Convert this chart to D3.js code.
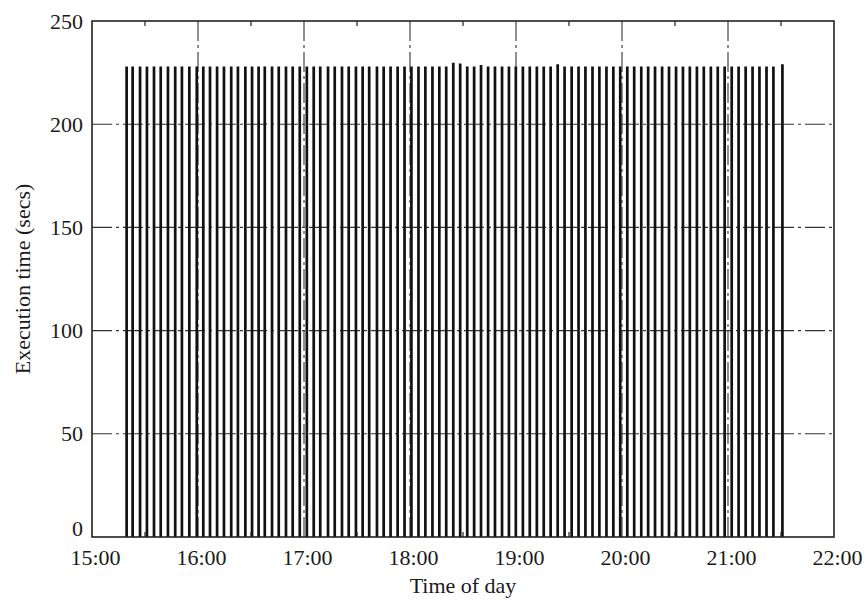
<!DOCTYPE html>
<html>
<head>
<meta charset="utf-8">
<script src="https://cdn.jsdelivr.net/npm/d3@7"></script>
<style>
  body { margin: 0; background: #fff; }
  svg { display: block; }
  .axis text { font-family: "Times New Roman", "Liberation Serif", serif; font-size: 22px; fill: #1a1a1a; }
  .axis path, .axis line { stroke: #222; }
  .axis-label { font-family: "Times New Roman", "Liberation Serif", serif; font-size: 22px; fill: #1a1a1a; }
  .grid line { stroke: #333; stroke-width: 1.1; stroke-dasharray: 20,4,3,4; }
  .run { stroke: #111; stroke-width: 2.7; }
</style>
</head>
<body>
<svg id="chart" width="867" height="605"></svg>
<script>
/* execution time of each run over one afternoon/evening */

// run start, minutes after 15:00
const runMinutes = [
  19.6, 23.0, 27.2, 31.1, 35.1, 38.9, 43.0, 47.1, 50.9, 55.1,
  59.3, 63.0, 66.8, 70.8, 74.7, 78.8, 82.6, 86.8, 90.6, 94.3,
  97.8, 101.9, 105.7, 109.8, 113.6, 117.6, 121.6, 125.5, 129.2, 133.6,
  137.4, 141.5, 145.3, 149.4, 153.2, 156.9, 161.3, 165.1, 169.0, 173.0,
  176.9, 180.8, 184.8, 188.7, 192.7, 196.6, 200.5, 204.5, 208.4, 212.4,
  216.3, 220.2, 224.2, 228.1, 232.1, 236.0, 239.9, 243.9, 247.8, 251.8,
  255.7, 259.6, 263.6, 267.5, 271.5, 275.4, 279.3, 283.3, 287.2, 291.2,
  295.1, 299.0, 303.0, 306.9, 310.9, 314.8, 318.7, 322.7, 326.6, 330.6,
  334.5, 338.4, 342.4, 346.3, 350.3, 354.2, 358.1, 362.1, 366.0, 370.0,
  373.9, 377.8, 381.8, 385.7, 390.8
];

// execution time (secs) of each run
const execSecs = [
  228, 228, 228, 228, 228, 228, 228, 228, 228, 228,
  228, 228, 228, 228, 228, 228, 228, 228, 228, 228,
  228, 228, 228, 228, 228, 228, 228, 228, 228, 228,
  228, 228, 228, 228, 228, 228, 228, 228, 228, 228,
  228, 228, 228, 228, 228, 228, 228, 229.8, 229.4, 228,
  228, 228.7, 228, 228, 228, 228, 228, 228, 228, 228,
  228, 228, 229, 228, 228, 228, 228, 228, 228, 228,
  228, 228, 228, 228, 228, 228, 228, 228, 228, 228,
  228, 228, 228, 228, 228, 228, 228, 228, 228, 228,
  228, 228, 228, 228, 229
];

const xTickLabels = ["15:00", "16:00", "17:00", "18:00", "19:00", "20:00", "21:00", "22:00"];
const yTicks = [0, 50, 100, 150, 200, 250];

const dayStart = new Date(2000, 0, 1, 15, 0);
const dayEnd = new Date(2000, 0, 1, 22, 0);
const atMinute = m => new Date(dayStart.getTime() + m * 60000);

const svg = d3.select("#chart");
const W = 867, H = 605;
const margin = { top: 21, right: 33, bottom: 68, left: 92 };
const innerW = W - margin.left - margin.right;
const innerH = H - margin.top - margin.bottom;

const g = svg.append("g").attr("transform", `translate(${margin.left},${margin.top})`);

const x = d3.scaleTime().domain([dayStart, dayEnd]).range([0, innerW]);
const y = d3.scaleLinear().domain([0, 250]).range([innerH, 0]);

const hourTicks = x.ticks(d3.timeHour.every(1));
const halfHours = x.ticks(d3.timeMinute.every(30)).filter(d => d.getMinutes() === 30);

// grid (dash-dot), interior only
const grid = g.append("g").attr("class", "grid");
grid.selectAll(".vg").data(hourTicks.slice(1, -1)).join("line")
  .attr("x1", d => x(d)).attr("x2", d => x(d)).attr("y1", 0).attr("y2", innerH);
grid.selectAll(".hg").data(yTicks.slice(1, -1)).join("line")
  .attr("x1", 0).attr("x2", innerW).attr("y1", d => y(d)).attr("y2", d => y(d));

// impulses
g.append("g").selectAll("line").data(runMinutes).join("line")
  .attr("class", "run")
  .attr("x1", d => x(atMinute(d))).attr("x2", d => x(atMinute(d)))
  .attr("y1", y(0)).attr("y2", (d, i) => y(execSecs[i]));

// axes, labels only (ticks drawn by grid + frame)
const xAxis = d3.axisBottom(x).tickValues(hourTicks)
  .tickFormat((d, i) => xTickLabels[i]).tickSize(0).tickPadding(12);
g.append("g").attr("class", "axis x-axis").attr("transform", `translate(0,${innerH})`)
  .call(xAxis)
  .call(s => s.select(".domain").remove())
  .call(s => s.selectAll("text").attr("dx", 3));

const yAxis = d3.axisLeft(y).tickValues(yTicks).tickSize(0).tickPadding(9);
g.append("g").attr("class", "axis y-axis").call(yAxis)
  .call(s => s.select(".domain").remove())
  .call(s => s.selectAll(".tick").filter(d => d === 0).select("text").attr("dy", "-0.05em"));

// minor half-hour ticks on top and bottom
const minor = g.append("g").attr("stroke", "#222").attr("stroke-width", 1.2);
halfHours.forEach(d => {
  minor.append("line").attr("x1", x(d)).attr("x2", x(d)).attr("y1", 0).attr("y2", 5);
  minor.append("line").attr("x1", x(d)).attr("x2", x(d)).attr("y1", innerH).attr("y2", innerH - 5);
});

// frame
g.append("rect").attr("width", innerW).attr("height", innerH)
  .attr("fill", "none").attr("stroke", "#222").attr("stroke-width", 1.6);

g.append("text").attr("class", "axis-label")
  .attr("x", innerW / 2).attr("y", innerH + 56).attr("text-anchor", "middle")
  .text("Time of day");

g.append("text").attr("class", "axis-label")
  .attr("transform", "rotate(-90)").attr("x", -innerH / 2).attr("y", -62)
  .attr("text-anchor", "middle").text("Execution time (secs)");
</script>
</body>
</html>
